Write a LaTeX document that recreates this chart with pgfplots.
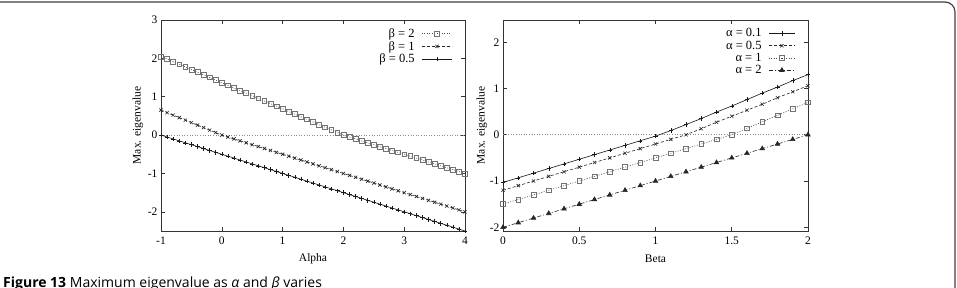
\documentclass[border=0pt]{standalone}
\usepackage{pgfplots}
\usepackage{pgfplotstable}
\pgfplotsset{compat=1.18}
\usepackage{fontspec}
\setmainfont{Liberation Serif}
\newfontfamily\capfont{Open Sans}
\pgfplotstableread{
a b2 b1 b05
-1.0 2.050 0.650 0.00
-0.9 1.982 0.585 -0.05
-0.8 1.914 0.520 -0.10
-0.7 1.845 0.455 -0.15
-0.6 1.777 0.390 -0.20
-0.5 1.709 0.325 -0.25
-0.4 1.640 0.260 -0.30
-0.3 1.572 0.195 -0.35
-0.2 1.504 0.130 -0.40
-0.1 1.435 0.065 -0.45
0.0 1.367 0.000 -0.50
0.1 1.299 -0.05 -0.55
0.2 1.230 -0.10 -0.60
0.3 1.162 -0.15 -0.65
0.4 1.094 -0.20 -0.70
0.5 1.025 -0.25 -0.75
0.6 0.957 -0.30 -0.80
0.7 0.889 -0.35 -0.85
0.8 0.820 -0.40 -0.90
0.9 0.752 -0.45 -0.95
1.0 0.684 -0.50 -1.00
1.1 0.615 -0.55 -1.05
1.2 0.547 -0.60 -1.10
1.3 0.479 -0.65 -1.15
1.4 0.410 -0.70 -1.20
1.5 0.342 -0.75 -1.25
1.6 0.273 -0.80 -1.30
1.7 0.205 -0.85 -1.35
1.8 0.137 -0.90 -1.40
1.9 0.068 -0.95 -1.45
2.0 0.000 -1.00 -1.50
2.1 -0.05 -1.05 -1.55
2.2 -0.10 -1.10 -1.60
2.3 -0.15 -1.15 -1.65
2.4 -0.20 -1.20 -1.70
2.5 -0.25 -1.25 -1.75
2.6 -0.30 -1.30 -1.80
2.7 -0.35 -1.35 -1.85
2.8 -0.40 -1.40 -1.90
2.9 -0.45 -1.45 -1.95
3.0 -0.50 -1.50 -2.00
3.1 -0.55 -1.55 -2.05
3.2 -0.60 -1.60 -2.10
3.3 -0.65 -1.65 -2.15
3.4 -0.70 -1.70 -2.20
3.5 -0.75 -1.75 -2.25
3.6 -0.80 -1.80 -2.30
3.7 -0.85 -1.85 -2.35
3.8 -0.90 -1.90 -2.40
3.9 -0.95 -1.95 -2.45
4.0 -1.00 -2.00 -2.50
}\lefttab
\pgfplotstableread{
b a01 a05 a1 a2
0.0 -1.03 -1.20 -1.50 -2.0
0.1 -0.93 -1.10 -1.40 -1.9
0.2 -0.83 -1.00 -1.30 -1.8
0.3 -0.73 -0.90 -1.20 -1.7
0.4 -0.63 -0.80 -1.10 -1.6
0.5 -0.53 -0.70 -1.00 -1.5
0.6 -0.43 -0.60 -0.90 -1.4
0.7 -0.33 -0.50 -0.80 -1.3
0.8 -0.23 -0.40 -0.70 -1.2
0.9 -0.13 -0.30 -0.60 -1.1
1.0 -0.03 -0.20 -0.50 -1.0
1.1 0.09 -0.10 -0.40 -0.9
1.2 0.22 0.00 -0.30 -0.8
1.3 0.35 0.13 -0.20 -0.7
1.4 0.49 0.27 -0.10 -0.6
1.5 0.62 0.40 0.00 -0.5
1.6 0.76 0.53 0.14 -0.4
1.7 0.90 0.66 0.28 -0.3
1.8 1.03 0.80 0.42 -0.2
1.9 1.17 0.93 0.56 -0.1
2.0 1.30 1.06 0.70 0.0
}\righttab
\pgfplotsset{
  myax/.style={
    scale only axis, height=211pt,
    axis line style={black!80, line width=0.8pt},
    tick style={black!80, line width=0.6pt},
    major tick length=4pt, tick align=inside,
    tick label style={font=\fontsize{11.5}{12}\selectfont},
    label style={font=\fontsize{11.5}{12}\selectfont},
    xticklabel style={yshift=-2pt},
    xlabel style={at={(axis description cs:0.5,-0.133)}, anchor=center},
    /pgf/number format/assume math mode=true,
    legend style={draw=none, fill=none, anchor=north east,
      font=\fontsize{12.5}{12}\selectfont, row sep=-1.5pt, inner sep=1pt},
    legend cell align=right,
    legend plot pos=right,
    every axis plot/.append style={line width=0.6pt},
  },
  sq/.style={black!70, dash pattern=on 1pt off 1.5pt, mark=square, mark size=2.4pt, mark options={solid, black!55, line width=0.6pt}},
  cr/.style={black!85, dash pattern=on 3pt off 2pt, mark=x, mark size=2.3pt, mark options={solid}},
  pl/.style={black!90, solid, mark=+, mark size=2.2pt, mark options={solid, line width=0.5pt}},
  tr/.style={black!85, dash pattern=on 4pt off 2pt on 1pt off 2pt, mark=triangle*, mark size=2.6pt, mark options={solid}},
}
\begin{document}
\begin{tikzpicture}
\useasboundingbox (0,0) rectangle (957pt,288pt);
\begin{scope}
\clip (0,0) rectangle (957pt,288pt);
\draw[black!75, line width=1.2pt, rounded corners=10pt] (-20pt,-30pt) rectangle (955pt,286pt);
\node[anchor=base west, inner sep=0pt] at (3pt,0pt) {\capfont\fontsize{14}{16}\selectfont\textbf{Figure 13} Maximum eigenvalue as \textit{α} and \textit{β} varies};
\end{scope}
\begin{axis}[myax, at={(161pt,57pt)}, anchor=south west, width=304pt,
  xmin=-1, xmax=4, ymin=-2.5, ymax=3,
  xtick={-1,0,1,2,3,4}, ytick={-2,-1,0,1,2,3},
  xlabel={Alpha}, ylabel={Max. eigenvalue},
  ylabel style={at={(axis description cs:-0.0757,0.5)}, anchor=center},
  legend style={at={(0.962,0.975)}},
  legend image code/.code={\path (0pt,0pt); \draw[mark repeat=2,mark phase=2] plot coordinates {(5pt,0pt) (20pt,0pt) (35pt,0pt)};}]
\addplot[black!45, dotted, line width=0.5pt, forget plot] coordinates {(-1,0) (4,0)};
\addplot[sq] table[x=a,y=b2]{\lefttab};
\addlegendentry{β = 2}
\addplot[cr] table[x=a,y=b1]{\lefttab};
\addlegendentry{β = 1}
\addplot[pl] table[x=a,y=b05]{\lefttab};
\addlegendentry{β = 0.5}
\end{axis}
\begin{axis}[myax, at={(503pt,57pt)}, anchor=south west, width=305pt,
  xmin=0, xmax=2, ymin=-2.08, ymax=2.48,
  xtick={0,0.5,1,1.5,2}, ytick={-2,-1,0,1,2},
  xlabel={Beta}, ylabel={Max. eigenvalue},
  ylabel style={at={(axis description cs:-0.069,0.5)}, anchor=center},
  legend style={at={(0.962,0.975)}},
  legend image code/.code={\path (0pt,0pt); \draw[mark repeat=2,mark phase=2] plot coordinates {(5pt,0pt) (18pt,0pt) (31pt,0pt)};}]
\addplot[black!45, dotted, line width=0.5pt, forget plot] coordinates {(0,0) (2,0)};
\addplot[pl] table[x=b,y=a01]{\righttab};
\addlegendentry{α = 0.1}
\addplot[cr] table[x=b,y=a05]{\righttab};
\addlegendentry{α = 0.5}
\addplot[sq] table[x=b,y=a1]{\righttab};
\addlegendentry{α = 1}
\addplot[tr] table[x=b,y=a2]{\righttab};
\addlegendentry{α = 2}
\end{axis}
\end{tikzpicture}
\end{document}
